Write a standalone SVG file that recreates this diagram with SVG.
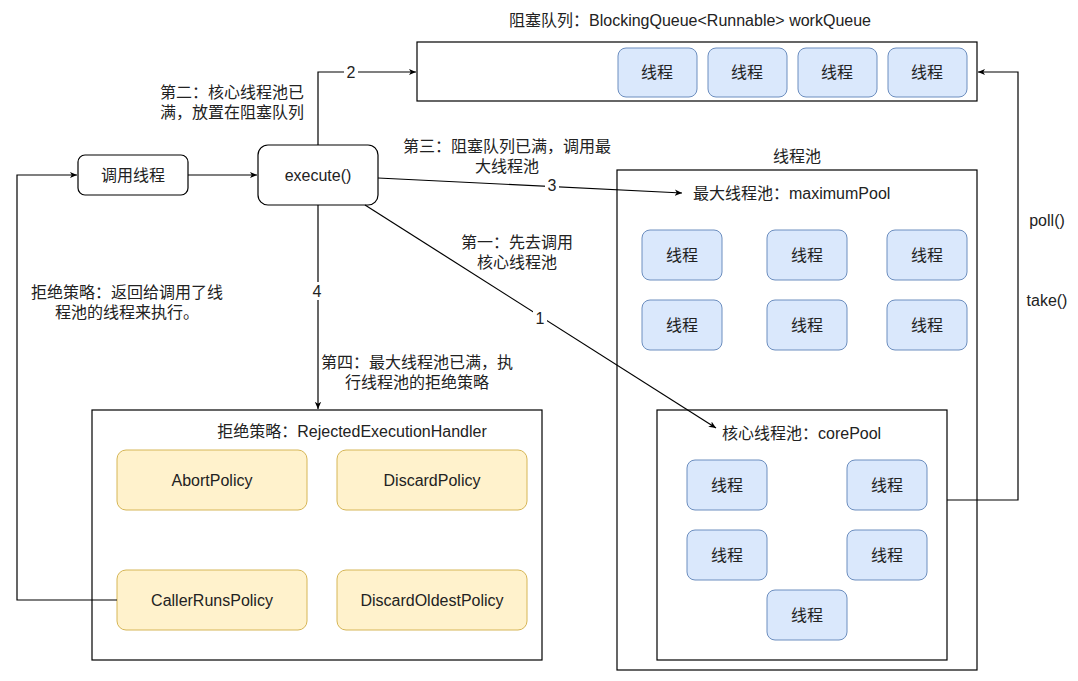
<svg xmlns="http://www.w3.org/2000/svg" width="1078" height="681" viewBox="0 0 1078 681">
<defs>
<style>
text{font-family:"Liberation Sans","Noto Sans CJK SC",sans-serif;font-size:16px;fill:#222;}
.c{text-anchor:middle;}
.box{fill:#fff;stroke:#000;stroke-width:1.2;}
.t{fill:#dae8fc;stroke:#6c8ebf;stroke-width:1;}
.p{fill:#fff2cc;stroke:#d6b656;stroke-width:1;}
.ln{fill:none;stroke:#000;stroke-width:1.2;}
.lb{fill:#fff;}
</style>
<marker id="a" viewBox="0 0 10 10" refX="9" refY="5" markerWidth="8" markerHeight="8" orient="auto" markerUnits="userSpaceOnUse">
<path d="M0,1 L9,5 L0,9 L2.5,5 Z" fill="#000"/>
</marker>
</defs>
<rect width="1078" height="681" fill="#fff"/>

<g id="queue">
<text class="c" x="690" y="26">阻塞队列：BlockingQueue&lt;Runnable&gt; workQueue</text>
<rect class="box" x="417" y="42" width="560" height="59"/>
<rect class="t" x="618" y="48" width="79" height="49" rx="8"/><text class="c" x="657" y="78">线程</text>
<rect class="t" x="708" y="48" width="79" height="49" rx="8"/><text class="c" x="747" y="78">线程</text>
<rect class="t" x="798" y="48" width="79" height="49" rx="8"/><text class="c" x="837" y="78">线程</text>
<rect class="t" x="888" y="48" width="79" height="49" rx="8"/><text class="c" x="927" y="78">线程</text>
</g>

<g id="caller">
<rect class="box" x="78" y="155" width="110" height="40" rx="7"/>
<text class="c" x="133" y="181">调用线程</text>
</g>

<g id="execute">
<rect class="box" x="258" y="145" width="120" height="60" rx="10"/>
<text class="c" x="318" y="181">execute()</text>
</g>

<g id="pool">
<text class="c" x="797" y="162">线程池</text>
<rect class="box" x="617" y="170" width="360" height="500"/>
</g>

<g id="maxPool">
<text x="693" y="199">最大线程池：maximumPool</text>
<rect class="t" x="642" y="230" width="80" height="50" rx="8"/><text class="c" x="682" y="261">线程</text>
<rect class="t" x="767" y="230" width="80" height="50" rx="8"/><text class="c" x="807" y="261">线程</text>
<rect class="t" x="887" y="230" width="80" height="50" rx="8"/><text class="c" x="927" y="261">线程</text>
<rect class="t" x="642" y="300" width="80" height="50" rx="8"/><text class="c" x="682" y="331">线程</text>
<rect class="t" x="767" y="300" width="80" height="50" rx="8"/><text class="c" x="807" y="331">线程</text>
<rect class="t" x="887" y="300" width="80" height="50" rx="8"/><text class="c" x="927" y="331">线程</text>
</g>

<g id="corePool">
<rect class="box" x="657" y="410" width="290" height="250"/>
<text x="722" y="439">核心线程池：corePool</text>
<rect class="t" x="687" y="460" width="80" height="50" rx="8"/><text class="c" x="727" y="491">线程</text>
<rect class="t" x="847" y="460" width="80" height="50" rx="8"/><text class="c" x="887" y="491">线程</text>
<rect class="t" x="687" y="530" width="80" height="50" rx="8"/><text class="c" x="727" y="561">线程</text>
<rect class="t" x="847" y="530" width="80" height="50" rx="8"/><text class="c" x="887" y="561">线程</text>
<rect class="t" x="767" y="590" width="80" height="50" rx="8"/><text class="c" x="807" y="621">线程</text>
</g>

<g id="reject">
<rect class="box" x="92" y="410" width="450" height="250"/>
<text class="c" x="352" y="437">拒绝策略：RejectedExecutionHandler</text>
<rect class="p" x="117" y="450" width="190" height="60" rx="9"/><text class="c" x="212" y="486">AbortPolicy</text>
<rect class="p" x="337" y="450" width="190" height="60" rx="9"/><text class="c" x="432" y="486">DiscardPolicy</text>
<rect class="p" x="117" y="570" width="190" height="60" rx="9"/><text class="c" x="212" y="606">CallerRunsPolicy</text>
<rect class="p" x="337" y="570" width="190" height="60" rx="9"/><text class="c" x="432" y="606">DiscardOldestPolicy</text>
</g>

<g id="connectors">
<path class="ln" d="M188,175 H257" marker-end="url(#a)"/>
<path class="ln" d="M318,145 V72 H416" marker-end="url(#a)"/>
<rect class="lb" x="344" y="63" width="14" height="18"/>
<text class="c" x="351" y="78">2</text>
<path class="ln" d="M378,178 L682,193" marker-end="url(#a)"/>
<rect class="lb" x="545" y="176" width="14" height="18"/>
<text class="c" x="552" y="191">3</text>
<path class="ln" d="M365,205 L716,428" marker-end="url(#a)"/>
<rect class="lb" x="533" y="309" width="14" height="18"/>
<text class="c" x="540" y="324">1</text>
<path class="ln" d="M318,205 V409" marker-end="url(#a)"/>
<rect class="lb" x="310" y="282" width="14" height="18"/>
<text class="c" x="317" y="297">4</text>
<path class="ln" d="M947,500 H1018 V72 H978" marker-end="url(#a)"/>
<path class="ln" d="M117,600 H17 V175 H77" marker-end="url(#a)"/>
</g>

<g id="labels">
<text class="c" x="232" y="98">第二：核心线程池已</text>
<text class="c" x="232" y="118">满，放置在阻塞队列</text>
<text class="c" x="507" y="152">第三：阻塞队列已满，调用最</text>
<text class="c" x="507" y="172">大线程池</text>
<text class="c" x="517" y="248">第一：先去调用</text>
<text class="c" x="517" y="268">核心线程池</text>
<text class="c" x="1047" y="226">poll()</text>
<text class="c" x="1047" y="306">take()</text>
<text class="c" x="417" y="368">第四：最大线程池已满，执</text>
<text class="c" x="417" y="388">行线程池的拒绝策略</text>
<text class="c" x="127" y="298">拒绝策略：返回给调用了线</text>
<text class="c" x="127" y="318">程池的线程来执行。</text>
</g>
</svg>
